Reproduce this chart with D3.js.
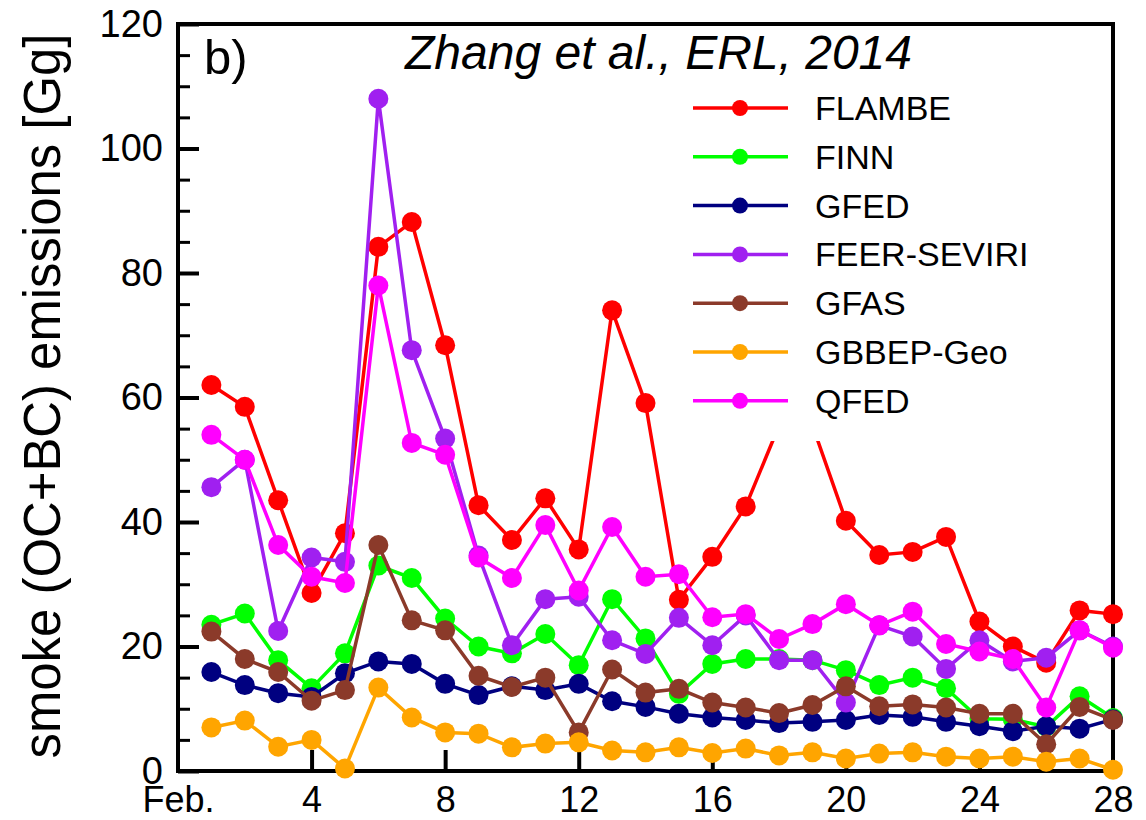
<!DOCTYPE html>
<html>
<head>
<meta charset="utf-8">
<script src="https://cdn.jsdelivr.net/npm/d3@7"></script>
<style>
  body { margin: 0; background: #fff; }
  text { font-family: "Liberation Sans", Arial, sans-serif; }
</style>
</head>
<body>
<script>
// days of February
var days = d3.range(1, 29);

var flambe = [62, 58.5, 43.5, 28.6, 38.2, 84.2, 88.2, 68.4, 42.7, 37.1, 43.8, 35.6, 74, 59.1,
              27.5, 34.4, 42.5, 55.5, 55.5, 40.2, 34.7, 35.2, 37.6, 24, 20, 17.4, 25.8, 25.2];
var finn = [23.5, 25.3, 17.8, 13.3, 18.9, 33, 31, 24.5, 20, 18.9, 22, 17, 27.6, 21.3,
            12.4, 17.2, 18, 18, 17.8, 16.2, 13.8, 15, 13.3, 8.4, 8.3, 7.1, 12, 8.5];
var gfed = [15.9, 13.8, 12.5, 11.9, 15.7, 17.6, 17.2, 14, 12.2, 13.6, 13, 14, 11.2, 10.3,
            9.2, 8.6, 8.2, 7.7, 7.9, 8.2, 9, 8.7, 7.9, 7.2, 6.4, 7.2, 6.8, 8.3];
var feer = [45.6, 50, 22.5, 34.3, 33.6, 108, 67.6, 53.4, 34.6, 20.2, 27.6, 28, 21, 18.8,
            24.6, 20.2, 25, 17.8, 17.8, 11, 23.4, 21.6, 16.4, 21, 17.6, 18.2, 22.6, 20];
var gfas = [22.4, 18, 15.9, 11.3, 13, 36.3, 24.2, 22.6, 15.3, 13.5, 15, 6.2, 16.3, 12.6,
            13.2, 11, 10.2, 9.3, 10.6, 13.6, 10.4, 10.7, 10.2, 9.2, 9.2, 4.3, 10.3, 8.2];
var gbbep = [7, 8.1, 3.9, 5, 0.4, 13.4, 8.6, 6.2, 6, 3.8, 4.4, 4.6, 3.3, 3,
             3.8, 2.9, 3.6, 2.5, 3, 2, 2.8, 3, 2.3, 2, 2.3, 1.5, 2, 0.2];
var qfed = [54, 50, 36.3, 31.2, 30.2, 78, 52.7, 50.8, 34.3, 31, 39.5, 29, 39.2, 31.2,
            31.6, 24.7, 25.2, 21.2, 23.6, 26.8, 23.4, 25.6, 20.4, 19.2, 18, 10.2, 22.6, 19.8];

var seriesNames = ["FLAMBE", "FINN", "GFED", "FEER-SEVIRI", "GFAS", "GBBEP-Geo", "QFED"];
var seriesValues = [flambe, finn, gfed, feer, gfas, gbbep, qfed];
var seriesColors = ["#ff0000", "#00ff00", "#000080", "#a020f0", "#8b3a2a", "#ffa500", "#ff00ff"];

var yMajor = [0, 20, 40, 60, 80, 100, 120];
var yMinor = d3.range(0, 121, 5);
var xTicks = [0, 4, 8, 12, 16, 20, 24, 28];
var xTickLabels = ["Feb.", "4", "8", "12", "16", "20", "24", "28"];

var W = 1146, H = 820;
var margin = {top: 24, right: 33, bottom: 49, left: 178},
    width = W - margin.left - margin.right,
    height = H - margin.top - margin.bottom;

var svg = d3.select("body").append("svg")
    .attr("width", W)
    .attr("height", H);

var g = svg.append("g")
    .attr("transform", "translate(" + margin.left + "," + margin.top + ")");

var xScale = d3.scaleLinear().domain([0, 28]).range([0, width]);
var yScale = d3.scaleLinear().domain([0, 120]).range([height, 0]);

// minor y ticks (inward)
g.append("g")
    .call(d3.axisRight(yScale).tickValues(yMinor).tickSize(12).tickFormat(""))
    .call(function(a) { a.select(".domain").remove(); a.selectAll("line").attr("stroke-width", 3); });

// major y ticks with labels
var yAxis = g.append("g")
    .call(d3.axisLeft(yScale).tickValues(yMajor).tickSize(0).tickPadding(15))
    .call(function(a) { a.select(".domain").remove(); });
yAxis.selectAll("text").attr("font-size", 38).attr("fill", "#000");
yAxis.selectAll(".tick").append("line")
    .attr("x2", 21).attr("stroke", "#000").attr("stroke-width", 4);

// x ticks (inward) and labels
var xAxis = g.append("g")
    .attr("transform", "translate(0," + height + ")")
    .call(d3.axisBottom(xScale).tickValues(xTicks).tickSize(0)
        .tickFormat(function(d, i) { return xTickLabels[i]; }))
    .call(function(a) { a.select(".domain").remove(); });
xAxis.selectAll("text").attr("font-size", 36).attr("fill", "#000")
    .attr("y", 41).attr("dy", 0);
xAxis.selectAll(".tick").filter(function(d) { return d > 0 && d < 28; }).append("line")
    .attr("y2", -21).attr("stroke", "#000").attr("stroke-width", 4);

// frame
g.append("rect")
    .attr("width", width).attr("height", height)
    .attr("fill", "none").attr("stroke", "#000").attr("stroke-width", 4);

// series
var lineGen = d3.line()
    .x(function(d, i) { return xScale(days[i]); })
    .y(function(d) { return yScale(d); });

var lines = g.append("g").attr("class", "series");
for (let s = 0; s < seriesValues.length; s++) {
    var grp = lines.append("g");
    grp.append("path")
        .attr("d", lineGen(seriesValues[s]))
        .attr("fill", "none")
        .attr("stroke", seriesColors[s])
        .attr("stroke-width", 3.5);
    grp.selectAll("circle")
        .data(seriesValues[s])
        .enter().append("circle")
        .attr("cx", function(d, i) { return xScale(days[i]); })
        .attr("cy", function(d) { return yScale(d); })
        .attr("r", 10)
        .attr("fill", seriesColors[s]);
}

// legend with white background
var legend = svg.append("g");
legend.append("rect")
    .attr("x", 680).attr("y", 84)
    .attr("width", 352).attr("height", 357)
    .attr("fill", "#fff");

for (let s = 0; s < seriesNames.length; s++) {
    var ly = 108 + s * 48.8;
    legend.append("line")
        .attr("x1", 693).attr("x2", 788)
        .attr("y1", ly).attr("y2", ly)
        .attr("stroke", seriesColors[s]).attr("stroke-width", 3.5);
    legend.append("circle")
        .attr("cx", 740).attr("cy", ly).attr("r", 8)
        .attr("fill", seriesColors[s]);
    legend.append("text")
        .attr("x", 815).attr("y", ly + 12)
        .attr("font-size", 34)
        .text(seriesNames[s]);
}

// panel label and citation
svg.append("text")
    .attr("x", 204).attr("y", 74)
    .attr("font-size", 49)
    .text("b)");

svg.append("text")
    .attr("x", 405).attr("y", 69)
    .attr("font-size", 48)
    .attr("font-style", "italic")
    .text("Zhang et al., ERL, 2014");

// y-axis label
svg.append("text")
    .attr("transform", "translate(60,396) rotate(-90)")
    .attr("text-anchor", "middle")
    .attr("font-size", 51)
    .attr("textLength", 725)
    .attr("lengthAdjust", "spacingAndGlyphs")
    .text("smoke (OC+BC) emissions [Gg]");
</script>
</body>
</html>
